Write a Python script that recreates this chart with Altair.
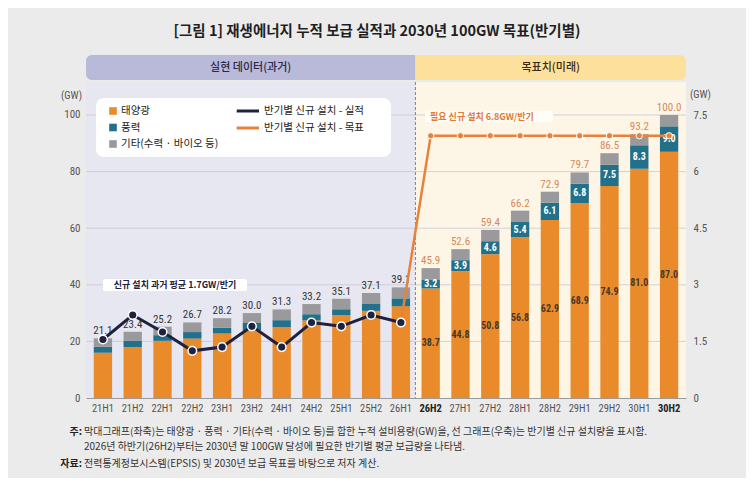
import altair as alt
import pandas as pd

# ---------------- data ----------------
periods = ["21H1", "21H2", "22H1", "22H2", "23H1", "23H2", "24H1", "24H2", "25H1", "25H2", "26H1",
           "26H2", "27H1", "27H2", "28H1", "28H2", "29H1", "29H2", "30H1", "30H2"]
total = [21.1, 23.4, 25.2, 26.7, 28.2, 30.0, 31.3, 33.2, 35.1, 37.1, 39.1,
         45.9, 52.6, 59.4, 66.2, 72.9, 79.7, 86.5, 93.2, 100.0]
solar = [16.0, 18.0, 20.2, 21.0, 22.8, 24.0, 25.0, 27.4, 29.2, 30.8, 32.4,
         38.7, 44.8, 50.8, 56.8, 62.9, 68.9, 74.9, 81.0, 87.0]
wind = [2.1, 2.3, 2.0, 2.3, 2.0, 2.5, 2.5, 2.2, 2.2, 2.6, 2.8,
        3.2, 3.9, 4.6, 5.4, 6.1, 6.8, 7.5, 8.3, 9.0]
actual_periods = ["21H1", "21H2", "22H1", "22H2", "23H1", "23H2", "24H1", "24H2", "25H1", "25H2", "26H1"]
actual_new = [1.55, 2.2, 1.75, 1.25, 1.35, 1.9, 1.35, 2.0, 1.9, 2.2, 2.0]
target_periods = ["26H1", "26H2", "27H1", "27H2", "28H1", "28H2", "29H1", "29H2", "30H1", "30H2"]
target_new = [2.0, 6.95, 6.95, 6.95, 6.95, 6.95, 6.95, 6.95, 6.95, 6.95]
kinds = ["태양광", "풍력", "기타(수력 · 바이오 등)"]
kind_colors = ["#e98b2b", "#22708a", "#9a9a9c"]
left_ticks = [0, 20, 40, 60, 80, 100]
right_ticks = [0, 1.5, 3, 4.5, 6, 7.5]
grid_vals = [20, 40, 60, 80, 100]
bold_ticks = ["26H2", "30H2"]
n_past = 11

KR = "Noto Sans CJK KR"
NUM = "Liberation Sans Narrow, Roboto Condensed, Roboto, sans-serif"
NAVY = "#1e2240"
ORANGE = "#e8823a"

W, H = 600, 316
LMAX = 111.66
RMAX = 8.375

other = [round(t - s - w, 1) for t, s, w in zip(total, solar, wind)]

rows = []
for i, p in enumerate(periods):
    for k, (kind, vals) in enumerate(zip(kinds, [solar, wind, other])):
        rows.append({"period": p, "kind": kind, "value": vals[i], "ord": k})
bars_df = pd.DataFrame(rows)

lab_df = pd.DataFrame({
    "period": periods,
    "total": total,
    "solar_mid": [s / 2 for s in solar],
    "wind_mid": [s + w / 2 for s, w in zip(solar, wind)],
    "total_txt": [f"{t:.1f}" for t in total],
    "solar_txt": [f"{s:.1f}" for s in solar],
    "wind_txt": [f"{w:.1f}" for w in wind],
})
past_lab = lab_df.iloc[:n_past]
fut_lab = lab_df.iloc[n_past:]

act_df = pd.DataFrame({"period": actual_periods, "v": actual_new})
tgt_df = pd.DataFrame({"period": target_periods, "v": target_new})
grid_df = pd.DataFrame({"g": grid_vals})
one = pd.DataFrame({"k": [0]})

# ---------------- encodings ----------------
bold_list = "[" + ",".join(f"'{b}'" for b in bold_ticks) + "]"
x_axis = alt.Axis(
    title=None, labelAngle=0, ticks=False, domain=True, domainColor="#9a9a9a", domainWidth=1,
    labelPadding=5, labelFontSize=10.5, labelFont=NUM, grid=False,
    labelColor=alt.expr(f"indexof({bold_list}, datum.value) >= 0 ? '#222222' : '#555555'"),
    labelFontWeight=alt.expr(f"indexof({bold_list}, datum.value) >= 0 ? 'bold' : 'normal'"),
)
x_scale = alt.Scale(domain=periods, paddingInner=0.385, paddingOuter=0.26)


def X():
    return alt.X("period:N", sort=periods, scale=x_scale, axis=x_axis)


lscale = alt.Scale(domain=[0, LMAX], nice=False, zero=True)
laxis = alt.Axis(orient="left", values=left_ticks, grid=False, ticks=False, domain=False,
                 labelPadding=6, labelFontSize=11, labelFont=NUM, labelColor="#555555", title=None)
rscale = alt.Scale(domain=[0, RMAX], nice=False, zero=True)
raxis = alt.Axis(orient="right", values=right_ticks, format=".1~f", grid=False, ticks=False, domain=False,
                 labelPadding=7, labelFontSize=11, labelFont=NUM, labelColor="#555555", title=None)


def YL(field):
    return alt.Y(field, scale=lscale, axis=laxis)


def YR(field):
    return alt.Y(field, scale=rscale, axis=raxis)


def vrect(x, x2, y, y2, **kw):
    return alt.Chart(one).mark_rect(**kw).encode(
        x=alt.value(x), x2=alt.value(x2), y=alt.value(y), y2=alt.value(y2))


def vtext(txt, x, y, **kw):
    base = dict(font=KR, fontSize=10, color="#222222", baseline="middle")
    base.update(kw)
    return alt.Chart(one).mark_text(**base).encode(
        x=alt.value(x), y=alt.value(y), text=alt.value(txt))


split = 329.4

# ---------------- left group (bars) ----------------
bg_left = vrect(0, split, 0, H, color="#e7e7f2")
bg_right = vrect(split, W, 0, H, color="#fdf6e7")
grid = alt.Chart(grid_df).mark_rule(color="#c6c6d4", strokeWidth=0.8).encode(y=YL("g:Q"))
divider = alt.Chart(one).mark_rule(color="#8a7d74", strokeDash=[3, 2], strokeWidth=1).encode(
    x=alt.value(split), y=alt.value(0), y2=alt.value(H))

bars = alt.Chart(bars_df).mark_bar().encode(
    x=X(),
    y=alt.Y("value:Q", stack="zero", scale=lscale, axis=laxis),
    color=alt.Color("kind:N", scale=alt.Scale(domain=kinds, range=kind_colors), legend=None),
    order=alt.Order("ord:Q", sort="ascending"),
)

past_tot = alt.Chart(past_lab).mark_text(
    font=NUM, fontSize=11, color="#333333", baseline="bottom", dy=-2).encode(
    x=X(), y=YL("total:Q"), text="total_txt:N")
fut_tot = alt.Chart(fut_lab).mark_text(
    font=NUM, fontSize=11, color="#d4895a", baseline="bottom", dy=-2).encode(
    x=X(), y=YL("total:Q"), text="total_txt:N")
fut_wind = alt.Chart(fut_lab).mark_text(
    font=NUM, fontSize=10, fontWeight="bold", color="white", baseline="middle").encode(
    x=X(), y=YL("wind_mid:Q"), text="wind_txt:N")
fut_solar = alt.Chart(fut_lab).mark_text(
    font=NUM, fontSize=10, fontWeight="bold", color="#4a3828", baseline="middle").encode(
    x=X(), y=YL("solar_mid:Q"), text="solar_txt:N")

left = alt.layer(bg_left, bg_right, grid, divider, bars, past_tot, fut_tot, fut_wind, fut_solar)

# ---------------- right group (lines) ----------------
tgt_line = alt.Chart(tgt_df).mark_line(color=ORANGE, strokeWidth=2.5).encode(x=X(), y=YR("v:Q"))
tgt_pts = alt.Chart(tgt_df.iloc[1:]).mark_circle(
    size=40, color=ORANGE, opacity=1, stroke="white", strokeWidth=1).encode(x=X(), y=YR("v:Q"))
act_line = alt.Chart(act_df).mark_line(color=NAVY, strokeWidth=3).encode(x=X(), y=YR("v:Q"))
act_pts = alt.Chart(act_df).mark_circle(
    size=75, color=NAVY, opacity=1, stroke="white", strokeWidth=1.5).encode(x=X(), y=YR("v:Q"))

right = alt.layer(tgt_line, tgt_pts, act_line, act_pts)

# ---------------- decorations ----------------
deco = [
    # title
    vtext("[그림 1] 재생에너지 누적 보급 실적과 2030년 100GW 목표(반기별)", 291, -50,
          fontSize=14.5, fontWeight="bold", align="center", color="#1f1f1f"),
    # header bands
    vrect(0, split, -27, -2, color="#b9b9da", cornerRadiusTopLeft=6, cornerRadiusBottomLeft=6),
    vrect(split, W, -27, -2, color="#fde09b", cornerRadiusTopRight=6, cornerRadiusBottomRight=6),
    vtext("실현 데이터(과거)", split / 2, -14.5, fontSize=11, fontWeight=500, align="center",
          color="#2a2a48"),
    vtext("목표치(미래)", (split + W) / 2, -14.5, fontSize=11, fontWeight=500, align="center",
          color="#3a2c14"),
    # axis units
    vtext("(GW)", -4, 14, fontSize=10.5, align="right", color="#555555", font=NUM),
    vtext("(GW)", 604, 13, fontSize=10.5, align="left", color="#555555", font=NUM),
    # legend
    vrect(10, 305, 16, 75, color="white", cornerRadius=8),
    # annotation boxes
    vrect(17, 161, 197, 209, color="white", cornerRadius=2),
    vtext("신규 설치 과거 평균 1.7GW/반기", 89, 203, fontSize=9, fontWeight="bold",
          align="center", color=NAVY),
    vrect(339, 467, 28.7, 40.3, color="#fffdf8", cornerRadius=2),
    vtext("필요 신규 설치 6.8GW/반기", 344, 34.5, fontSize=9, fontWeight="bold",
          align="left", color="#e07b39"),
    # footnotes
    vtext("주:", -4, 350, fontWeight="bold", align="right"),
    vtext("막대그래프(좌축)는 태양광 · 풍력 · 기타(수력 · 바이오 등)를 합한 누적 설비용량(GW)을, "
          "선 그래프(우축)는 반기별 신규 설치량을 표시함.", -2, 350, align="left", color="#333333"),
    vtext("2026년 하반기(26H2)부터는 2030년 말 100GW 달성에 필요한 반기별 평균 보급량을 나타냄.",
          -2, 365, align="left", color="#333333"),
    vtext("자료:", -4, 382, fontWeight="bold", align="right"),
    vtext("전력통계정보시스템(EPSIS) 및 2030년 보급 목표를 바탕으로 저자 계산.", -2, 382,
          align="left", color="#333333"),
]

leg_y = [29, 45.5, 62]
for kind, col, yy in zip(kinds, kind_colors, leg_y):
    deco.append(alt.Chart(one).mark_square(size=58, color=col, opacity=1).encode(
        x=alt.value(27), y=alt.value(yy)))
    deco.append(vtext(kind, 35, yy, fontSize=10.5, align="left"))

line_labels = ["반기별 신규 설치 - 실적", "반기별 신규 설치 - 목표"]
line_colors = [NAVY, ORANGE]
for lab, col, yy in zip(line_labels, line_colors, [29, 46]):
    deco.append(alt.Chart(one).mark_rule(color=col, strokeWidth=3).encode(
        x=alt.value(150.7), x2=alt.value(173), y=alt.value(yy)))
    deco.append(vtext(lab, 178, yy, fontSize=10.5, align="left"))

deco_layer = alt.layer(*deco)

chart = alt.layer(left, right, deco_layer).resolve_scale(y="independent").properties(
    width=W, height=H,
    autosize=alt.AutoSizeParams(type="none"),
    padding={"left": 78, "top": 74, "right": 60, "bottom": 80},
    background="#ebebec",
).configure_view(stroke=None)

chart.save("out.html", embed_options={"renderer": "svg", "actions": False})
